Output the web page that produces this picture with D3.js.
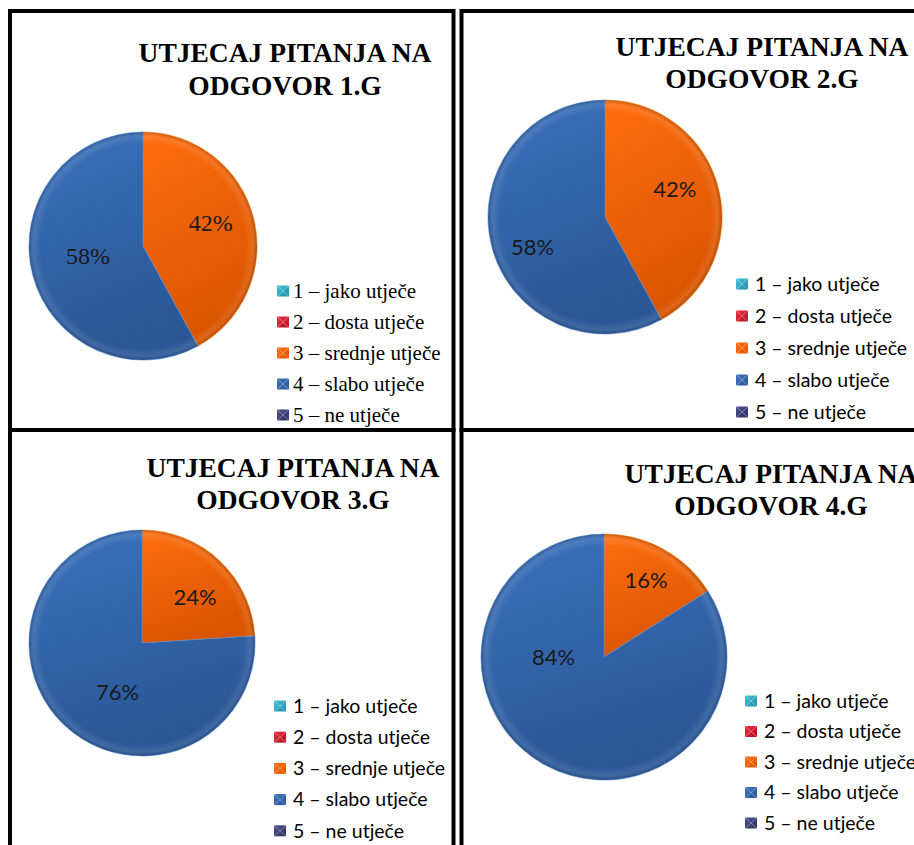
<!DOCTYPE html>
<html>
<head>
<meta charset="utf-8">
<script src="https://cdn.jsdelivr.net/npm/d3@7/dist/d3.min.js"></script>
<style>
  html, body { margin: 0; padding: 0; background: #fff; }
  svg { display: block; }
</style>
</head>
<body>
<svg id="chart" width="914" height="845"></svg>
<script>
// ---------- DATA ----------
const categories = ["1 – jako utječe", "2 – dosta utječe", "3 – srednje utječe", "4 – slabo utječe", "5 – ne utječe"];
const titleLine1 = ["UTJECAJ PITANJA NA", "UTJECAJ PITANJA NA", "UTJECAJ PITANJA NA", "UTJECAJ PITANJA NA"];
const titleLine2 = ["ODGOVOR 1.G", "ODGOVOR 2.G", "ODGOVOR 3.G", "ODGOVOR 4.G"];
const values1G = [0, 0, 42, 58, 0];
const values2G = [0, 0, 42, 58, 0];
const values3G = [0, 0, 24, 76, 0];
const values4G = [0, 0, 16, 84, 0];
const seriesValues = [values1G, values2G, values3G, values4G];

// ---------- STYLE / LAYOUT ----------
const colors = ["#2BA9C4", "#D3202F", "#F0650A", "#3668B2", "#3E417A"];
const gradTop = ["#45C3DC", "#F03040", "#FF6E0E", "#3B71BC", "#4D5190"];
const gradBot = ["#1E8AA3", "#B01020", "#DA5500", "#2A5797", "#2E3060"];

const serif = "Liberation Serif, Times New Roman, serif";
const sans = "Lato, Open Sans, sans-serif";

// label placement tweaks per panel: [small slice, big slice] -> [angle shift (deg), radius factor]
const panels = [
  { box: [10, 11, 453.5, 430], cx: 143, cy: 246, r: 114, tx: 285, ty: [62, 95],
    lx: 277, ly: 291, lstep: 31, font: serif, lsize: 21, psize: 24,
    nudge: { 2: [-5, 0.63], 3: [5, 0.49] } },
  { box: [461.5, 11, 925, 430], cx: 605, cy: 217, r: 117, tx: 762, ty: [56, 88],
    lx: 736, ly: 284, lstep: 32, font: sans, lsize: 19.5, psize: 22,
    nudge: { 2: [-7, 0.64], 3: [-8, 0.67] } },
  { box: [10, 430, 453.5, 855], cx: 142, cy: 643, r: 113, tx: 293, ty: [477, 509],
    lx: 274, ly: 706, lstep: 31.2, font: sans, lsize: 19.5, psize: 22,
    nudge: { 2: [6, 0.62], 3: [-17, 0.49] } },
  { box: [461.5, 430, 925, 855], cx: 604, cy: 657, r: 123, tx: 771, ty: [483, 515],
    lx: 745, ly: 701, lstep: 30.5, font: sans, lsize: 19.5, psize: 22,
    nudge: { 2: [0, 0.71], 3: [61, 0.41] } }
];

const svg = d3.select("#chart");
const defs = svg.append("defs");

colors.forEach((c, i) => {
  const g = defs.append("linearGradient").attr("id", "grad" + i)
    .attr("x1", "0").attr("y1", "0").attr("x2", "0.3").attr("y2", "1");
  g.append("stop").attr("offset", "0%").attr("stop-color", gradTop[i]);
  g.append("stop").attr("offset", "100%").attr("stop-color", gradBot[i]);
});
const rg = defs.append("radialGradient").attr("id", "bevel").attr("cx", "50%").attr("cy", "50%").attr("r", "50%");
rg.append("stop").attr("offset", "90%").attr("stop-color", "#fff").attr("stop-opacity", 0);
rg.append("stop").attr("offset", "96%").attr("stop-color", "#fff").attr("stop-opacity", 0.1);
rg.append("stop").attr("offset", "100%").attr("stop-color", "#000").attr("stop-opacity", 0.2);

colors.forEach((c, i) => {
  const g = defs.append("linearGradient").attr("id", "icon" + i)
    .attr("x1", "0").attr("y1", "0").attr("x2", "1").attr("y2", "1");
  g.append("stop").attr("offset", "0%").attr("stop-color", gradTop[i]);
  g.append("stop").attr("offset", "100%").attr("stop-color", gradBot[i]);
});

const pie = d3.pie().sort(null).value(d => d);

panels.forEach((p, k) => {
  const g = svg.append("g");
  g.append("rect")
    .attr("x", p.box[0]).attr("y", p.box[1])
    .attr("width", p.box[2] - p.box[0]).attr("height", p.box[3] - p.box[1])
    .attr("fill", "none").attr("stroke", "#000").attr("stroke-width", 4);

  const t = g.append("text").attr("text-anchor", "middle")
    .style("font-family", serif).attr("font-weight", "bold").attr("font-size", 27.5).attr("fill", "#000");
  t.append("tspan").attr("x", p.tx).attr("y", p.ty[0]).text(titleLine1[k]);
  t.append("tspan").attr("x", p.tx).attr("y", p.ty[1]).text(titleLine2[k]);

  const arcs = pie(seriesValues[k]);
  const arc = d3.arc().innerRadius(0).outerRadius(p.r);
  const pg = g.append("g").attr("transform", `translate(${p.cx},${p.cy})`);
  pg.selectAll("path.slice").data(arcs.filter(d => d.value > 0)).enter()
    .append("path").attr("class", "slice")
    .attr("d", arc)
    .attr("fill", d => `url(#grad${d.index})`)
    .attr("stroke", d => d3.color(gradTop[d.index]).brighter(0.6))
    .attr("stroke-opacity", 0.5)
    .attr("stroke-width", 1.2)
    .attr("stroke-linejoin", "round");
  pg.append("circle").attr("r", p.r).attr("fill", "url(#bevel)").attr("pointer-events", "none");

  pg.selectAll("text.lbl").data(arcs.filter(d => d.value > 0)).enter()
    .append("text").attr("class", "lbl")
    .attr("transform", d => {
      const n = p.nudge[d.index] || [0, 0.6];
      const a = (d.startAngle + d.endAngle) / 2 + n[0] * Math.PI / 180;
      const rr = p.r * n[1];
      return `translate(${rr * Math.sin(a)},${-rr * Math.cos(a)})`;
    })
    .attr("text-anchor", "middle").attr("dy", "0.35em")
    .style("font-family", p.font).attr("font-size", p.psize).attr("fill", "#1a1a1a")
    .text(d => d.value + "%");

  const lg = g.append("g");
  const items = lg.selectAll("g.item").data(categories).enter().append("g")
    .attr("class", "item")
    .attr("transform", (d, i) => `translate(${p.lx},${p.ly + i * p.lstep})`);
  items.append("rect").attr("x", 0).attr("y", -5.5).attr("width", 12).attr("height", 11)
    .attr("fill", (d, i) => `url(#icon${i})`);
  items.append("path")
    .attr("d", "M0,-5.5 L6,0 L12,-5.5 M0,5.5 L6,0 L12,5.5")
    .attr("stroke", "#fff").attr("stroke-opacity", 0.35).attr("stroke-width", 1).attr("fill", "none");
  items.append("text")
    .attr("x", p.font === serif ? 16 : 19).attr("dy", "0.35em")
    .style("font-family", p.font).attr("font-size", p.lsize).attr("fill", "#000")
    .text(d => d);
});
</script>
</body>
</html>
